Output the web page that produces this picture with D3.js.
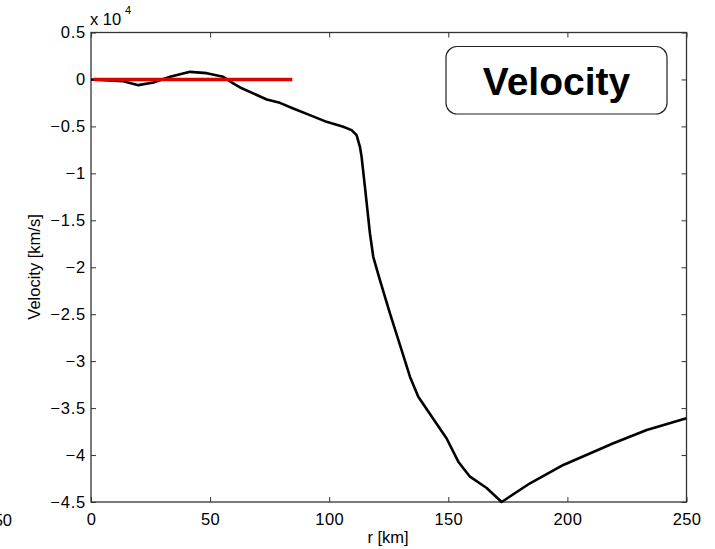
<!DOCTYPE html>
<html><head><meta charset="utf-8">
<script src="https://cdn.jsdelivr.net/npm/d3@7"></script>
<style>body{margin:0;background:#fff;} text{font-family:"Liberation Sans",Arial,Helvetica,sans-serif;}</style>
</head><body><svg id="c" width="715" height="549"></svg>
<script>
const radius = [0,13.6,19.9,26.2,33.2,41.6,48.6,55.5,59.7,62.6,68.1,73.8,79.3,84.9,91.9,98.9,105.9,109.4,111.5,112.9,113.6,115.0,117.1,118.5,121.3,125.5,130.4,133.9,137.4,142.3,149.3,154.2,159.1,166.1,172.4,184.3,198.3,219.3,233.3,250];
const velocity = [0,-181,-607,-319,277,809,671,277,-426,-852,-1490,-2129,-2491,-3087,-3800,-4514,-5046,-5397,-5929,-7175,-8239,-11433,-16393,-18885,-21365,-24909,-28816,-31659,-33788,-35630,-38237,-40707,-42304,-43507,-45000,-43007,-41058,-38748,-37332,-36087];
const redRadius = [1,84.5];
const redVelocity = [0,0];
const xTicks = [0,50,100,150,200,250];
const yTicks = [0.5,0,-0.5,-1,-1.5,-2,-2.5,-3,-3.5,-4,-4.5];
const yTickLabels = ["0.5","0","\u22120.5","\u22121","\u22121.5","\u22122","\u22122.5","\u22123","\u22123.5","\u22124","\u22124.5"];

const svg = d3.select("#c");
const L=91,R=686.5,T=32.5,B=502;
const x = d3.scaleLinear().domain([0,250]).range([L,R]);
const y = d3.scaleLinear().domain([-4.5,0.5]).range([B,T]);

const ax = (g)=>g.selectAll("text").remove();
svg.append("g").attr("transform",`translate(0,${B})`).call(d3.axisBottom(x).tickValues(xTicks).tickSize(-5).tickSizeOuter(0).tickFormat(d3.format("d")))
  .call(g=>{g.select(".domain").remove();g.selectAll("line").attr("stroke","#333");g.selectAll("text").attr("font-size",16.5).attr("fill","#000").attr("dy","1.22em").attr("letter-spacing","0.4px").attr("font-family","Liberation Sans, Arial");});
svg.append("g").attr("transform",`translate(0,${T})`).call(d3.axisTop(x).tickValues(xTicks).tickSize(-5).tickSizeOuter(0)).call(g=>{g.select(".domain").remove();g.selectAll("line").attr("stroke","#333");ax(g);});
svg.append("g").attr("transform",`translate(${L},0)`).call(d3.axisLeft(y).tickValues(yTicks).tickSize(-5).tickSizeOuter(0).tickFormat((d,i)=>yTickLabels[i]))
  .call(g=>{g.select(".domain").remove();g.selectAll("line").attr("stroke","#333");g.selectAll("text").attr("font-size",16.5).attr("fill","#000").attr("x",-5).attr("letter-spacing","0.8px").attr("font-family","Liberation Sans, Arial");});
svg.append("g").attr("transform",`translate(${R},0)`).call(d3.axisRight(y).tickValues(yTicks).tickSize(-5).tickSizeOuter(0)).call(g=>{g.select(".domain").remove();g.selectAll("line").attr("stroke","#333");ax(g);});

svg.append("rect").attr("x",L).attr("y",T).attr("width",R-L).attr("height",B-T).attr("fill","none").attr("stroke","#333").attr("stroke-width",1.3);

const line = d3.line().x(d=>x(d[0])).y(d=>y(d[1]/1e4));
svg.append("path").datum(radius.map((r,i)=>[r,velocity[i]])).attr("d",line).attr("fill","none").attr("stroke","#000").attr("stroke-width",2.6).attr("stroke-linejoin","round");
svg.append("path").datum(redRadius.map((r,i)=>[r,redVelocity[i]])).attr("d",line).attr("fill","none").attr("stroke","#e00000").attr("stroke-width",3.5);

svg.append("text").attr("x",90).attr("y",25).attr("font-size",16.5).text("x 10");
svg.append("text").attr("x",125).attr("y",14).attr("font-size",11).text("4");

svg.append("text").attr("x",388).attr("y",543).attr("text-anchor","middle").attr("font-size",16.5).text("r [km]");
svg.append("text").attr("transform","translate(40,267) rotate(-90)").attr("text-anchor","middle").attr("font-size",16.5).text("Velocity [km/s]");

svg.append("text").attr("x",12).attr("y",526).attr("text-anchor","end").attr("font-size",16.5).text("250");

svg.append("rect").attr("x",446).attr("y",46.5).attr("width",221).attr("height",67.5).attr("rx",11).attr("fill","#fff").attr("stroke","#222").attr("stroke-width",1.2);
svg.append("text").attr("x",556.5).attr("y",95).attr("text-anchor","middle").attr("font-size",39).attr("font-weight","bold").text("Velocity");
</script></body></html>
